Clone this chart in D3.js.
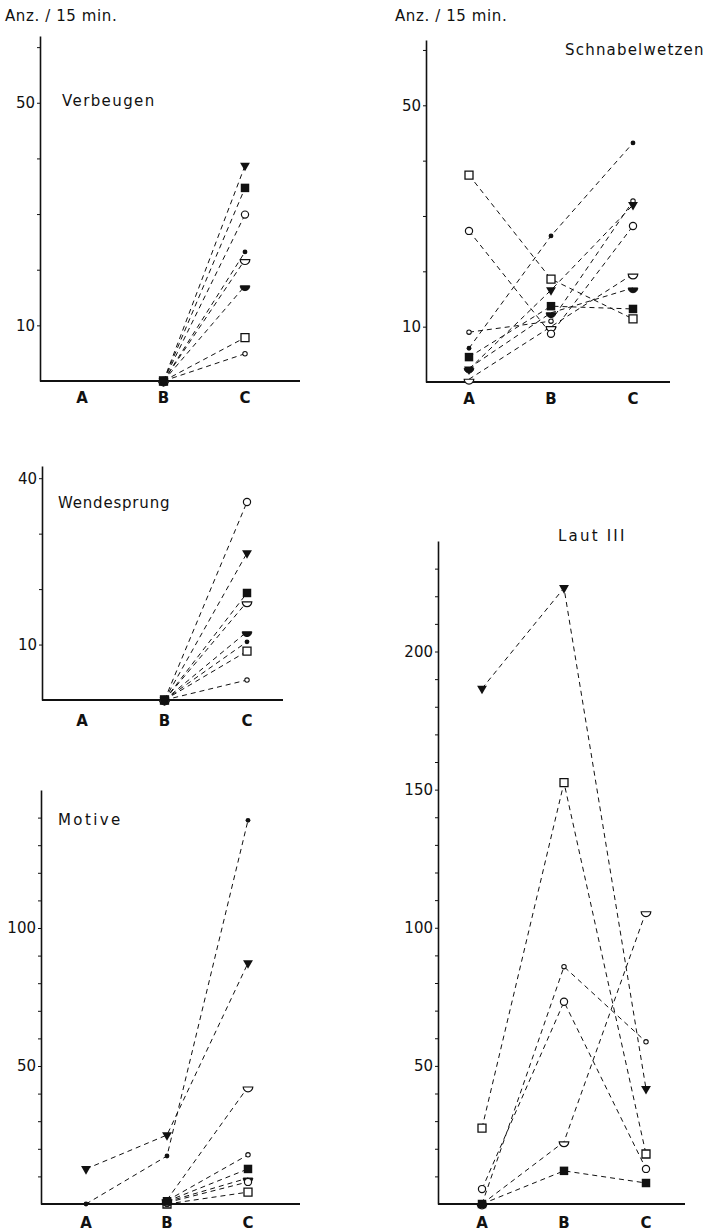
<!DOCTYPE html>
<html>
<head>
<meta charset="utf-8">
<script src="https://cdn.jsdelivr.net/npm/d3@7"></script>
<style>
  body { margin: 0; background: #fff; }
  svg { display: block; }
  text { font-family: "DejaVu Sans", sans-serif; fill: #111; }
  .tick line, .domain { stroke: #111; }
  .tick text { font-size: 15px; }
</style>
</head>
<body>
<svg width="715" height="1232"></svg>
<script>
// Versuchsphasen
var categories = ["A", "B", "C"];
// Reihenfolge der Tiere (= Symbole)
var animals = ["triF", "sqF", "circO", "dot", "halfO", "halfF", "sqO", "circS"];

// Werte je Tier: [A, B, C], null = kein Wert
var verbeugen = [
  [null, 0, 38.7], [null, 0, 34.7], [null, 0, 29.9], [null, 0, 23.2],
  [null, 0, 21.8], [null, 0, 17.1], [null, 0, 7.8], [null, 0, 4.9]
];
var schnabelwetzen = [
  [2.3, 16.6, 32.0], [4.5, 13.7, 13.2], [27.3, 8.7, 28.2], [6.1, 26.4, 43.2],
  [0.5, 10.0, 19.5], [2.5, 12.5, 17.0], [37.4, 18.6, 11.4], [9.0, 11.0, 32.7]
];
var wendesprung = [
  [null, 0, 26.5], [null, 0, 19.3], [null, 0, 35.7], [null, 0, 10.5],
  [null, 0, 17.7], [null, 0, 12.3], [null, 0, 8.8], [null, 0, 3.6]
];
var motive = [
  [12.7, 25.0, 87.3], [null, 1.0, 12.7], [null, 0.5, 8.0], [0, 17.4, 139],
  [null, 1.5, 42.4], [null, 0.8, 9.4], [null, 0, 4.3], [null, 1.2, 17.8]
];
var laut3 = [
  [186.6, 223, 41.7], [0, 12.0, 7.6], [5.4, 73.2, 12.7], [null, null, null],
  [0, 22.5, 105.8], [null, null, null], [27.5, 152.5, 18.1], [0, 85.9, 58.7]
];

var verbeugenTicks = [10, 50], schnabelTicks = [10, 50], wendeTicks = [10, 40],
    motiveTicks = [50, 100], lautTicks = [50, 100, 150, 200];

var svg = d3.select("svg");

// Symbole
var half = d3.arc().innerRadius(0).outerRadius(4.8)
  .startAngle(Math.PI / 2).endAngle(3 * Math.PI / 2);
function drawSymbol(g, kind) {
  if (kind === "triF") g.append("path").attr("d", d3.symbol(d3.symbolTriangle, 42)()).attr("transform", "rotate(180)").attr("fill", "#111");
  else if (kind === "sqF") g.append("path").attr("d", d3.symbol(d3.symbolSquare, 72)()).attr("fill", "#111");
  else if (kind === "sqO") g.append("path").attr("d", d3.symbol(d3.symbolSquare, 64)()).attr("fill", "#fff").attr("stroke", "#111").attr("stroke-width", 1.3);
  else if (kind === "circO") g.append("circle").attr("r", 3.6).attr("fill", "#fff").attr("stroke", "#111").attr("stroke-width", 1.2);
  else if (kind === "circS") g.append("circle").attr("r", 2.2).attr("fill", "#fff").attr("stroke", "#111").attr("stroke-width", 1.1);
  else if (kind === "dot") g.append("circle").attr("r", 2.4).attr("fill", "#111");
  else if (kind === "halfF") g.append("path").attr("d", half()).attr("fill", "#111").attr("stroke", "#111");
  else if (kind === "halfO") g.append("path").attr("d", half()).attr("fill", "#fff").attr("stroke", "#111").attr("stroke-width", 1.2);
}

function panel(p) {
  var g = svg.append("g");
  var x = d3.scalePoint().domain(categories).range([p.xA, p.xC]);
  var y = d3.scaleLinear().domain([0, p.yMax]).range([p.y0, p.yTop]);

  var yAxis = d3.axisLeft(y)
    .tickValues(d3.range(10, p.yMax, 10))
    .tickSize(3).tickSizeOuter(0).tickPadding(2)
    .tickFormat(function(d) { return p.labels.indexOf(d) >= 0 ? d : ""; });
  g.append("g").attr("transform", "translate(" + p.left + ",0)").call(yAxis)
    .call(function(a) { a.select(".domain").attr("stroke-width", 1.6); });

  g.append("line")
    .attr("x1", p.left).attr("x2", p.right)
    .attr("y1", p.y0).attr("y2", p.y0)
    .attr("stroke", "#111").attr("stroke-width", 2.2);

  g.selectAll(".cat").data(categories).enter().append("text")
    .attr("x", function(d) { return x(d); })
    .attr("y", p.y0 + p.catDy)
    .attr("text-anchor", "middle")
    .style("font-size", "15px").style("font-weight", "bold")
    .text(function(d) { return d; });

  g.append("text").attr("x", p.tx).attr("y", p.ty)
    .style("font-size", "15px").style("letter-spacing", p.ls + "px")
    .text(p.title);

  var line = d3.line()
    .defined(function(d) { return d != null; })
    .x(function(d, i) { return x(categories[i]); })
    .y(function(d) { return y(d); });

  p.values.forEach(function(vals) {
    g.append("path").attr("d", line(vals))
      .attr("fill", "none").attr("stroke", "#111")
      .attr("stroke-width", 1).attr("stroke-dasharray", "5,4");
  });
  // rückwärts zeichnen, damit gefüllte Symbole oben liegen
  p.values.slice().reverse().forEach(function(vals, r) {
    var k = p.values.length - 1 - r;
    vals.forEach(function(v, i) {
      if (v == null) return;
      var s = g.append("g").attr("transform", "translate(" + x(categories[i]) + "," + y(v) + ")");
      drawSymbol(s, animals[k]);
    });
  });
}

panel({ title: "Verbeugen", values: verbeugen, labels: verbeugenTicks, ls: 1.4, catDy: 22,
  left: 40, right: 300, xA: 82, xC: 245, y0: 381, yTop: 36, yMax: 62, tx: 62, ty: 106 });
panel({ title: "Schnabelwetzen", values: schnabelwetzen, labels: schnabelTicks, ls: 1.2, catDy: 22,
  left: 426, right: 670, xA: 469, xC: 633, y0: 382, yTop: 40, yMax: 61.8, tx: 565, ty: 55 });
panel({ title: "Wendesprung", values: wendesprung, labels: wendeTicks, ls: 0.8, catDy: 26,
  left: 42, right: 283, xA: 82, xC: 247, y0: 700, yTop: 466, yMax: 42.2, tx: 58, ty: 508 });
panel({ title: "Motive", values: motive, labels: motiveTicks, ls: 2.4, catDy: 24,
  left: 41, right: 300, xA: 86, xC: 248, y0: 1204, yTop: 790, yMax: 150, tx: 58, ty: 825 });
panel({ title: "Laut III", values: laut3, labels: lautTicks, ls: 2.2, catDy: 24,
  left: 438, right: 685, xA: 482, xC: 646, y0: 1204, yTop: 541, yMax: 240, tx: 558, ty: 541 });

svg.append("text").attr("x", 5).attr("y", 21).style("font-size", "15px").style("letter-spacing", "0.6px").text("Anz. / 15 min.");
svg.append("text").attr("x", 395).attr("y", 21).style("font-size", "15px").style("letter-spacing", "0.6px").text("Anz. / 15 min.");
</script>
</body>
</html>
